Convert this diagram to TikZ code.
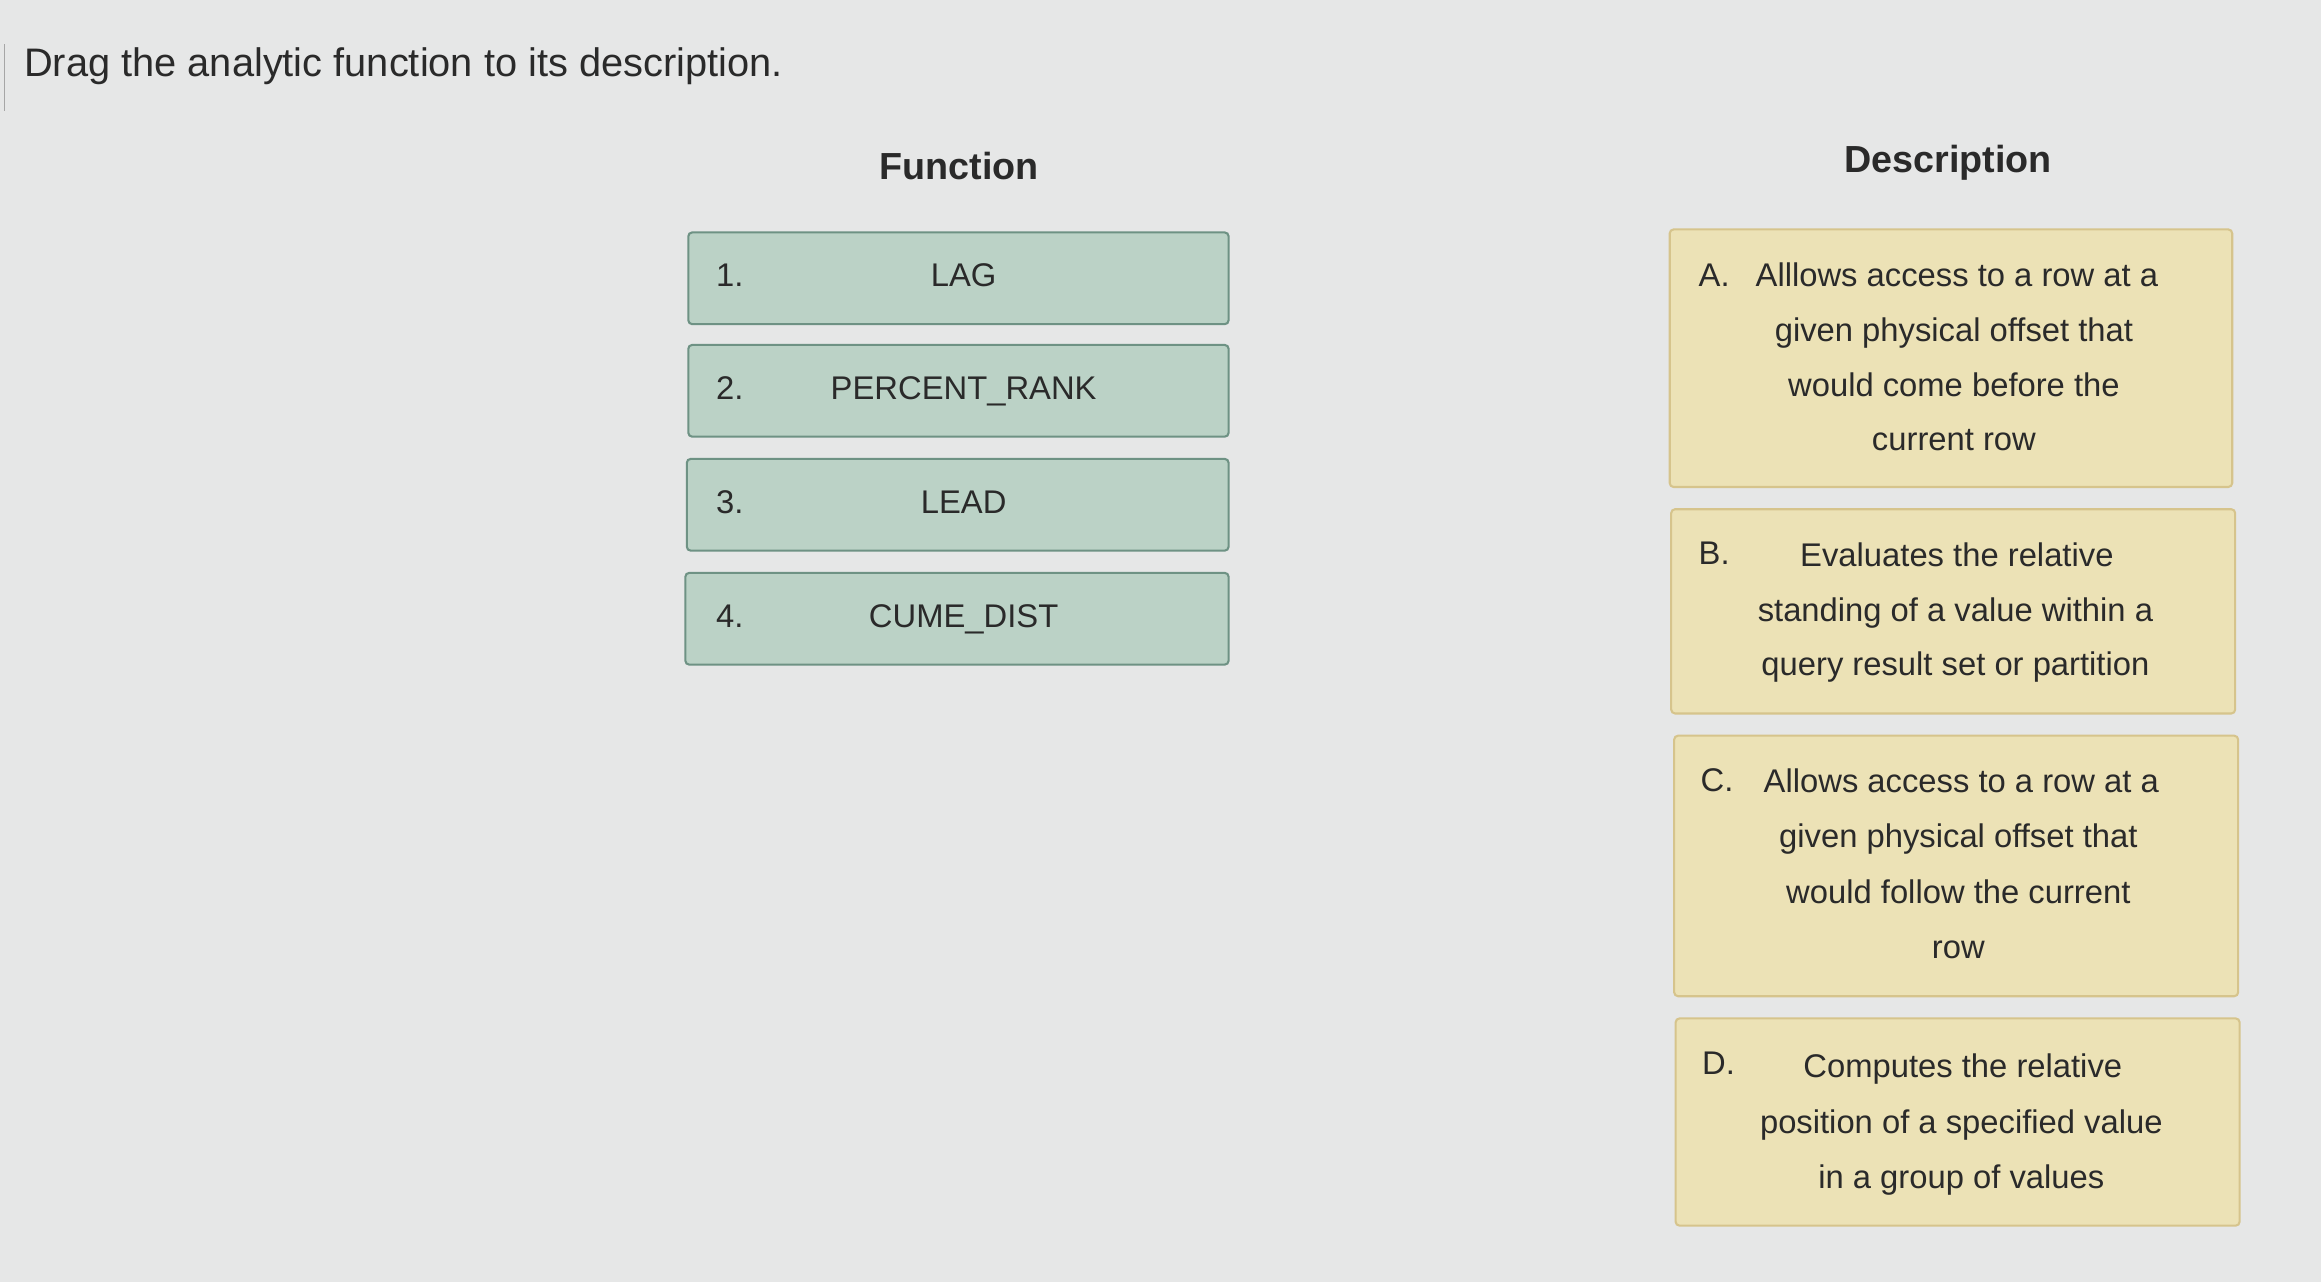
\documentclass[tikz,border=0pt]{standalone}
\usepackage{fontspec}
\setmainfont{Liberation Sans}
\definecolor{bg}{HTML}{E6E7E7}
\definecolor{gfill}{HTML}{BBD2C6}
\definecolor{gline}{HTML}{6E9284}
\definecolor{yfill}{HTML}{ECE2B6}
\definecolor{yline}{HTML}{D6C48C}
\definecolor{txt}{HTML}{2A2A2A}
\begin{document}
\begin{tikzpicture}[x=0.02cm,y=-0.02cm,
  fbox/.style={draw=gline,fill=gfill,line width=0.8pt,rounded corners=1.5pt},
  dbox/.style={draw=yline,fill=yfill,line width=0.8pt,rounded corners=1.5pt},
  t/.style={text=txt,font=\fontsize{12.6}{14}\selectfont,inner sep=0pt,text height=9pt,text depth=2.6pt},
  hd/.style={text=txt,font=\fontsize{14.5}{17}\selectfont\bfseries,inner sep=0pt}]
\fill[bg] (0,0) rectangle (1568,866);
\useasboundingbox (0,0) rectangle (1568,866);
\draw[gray!70,line width=0.6pt] (3,30) -- (3,75);
\node[t,anchor=west,font=\fontsize{15.3}{17}\selectfont] (title) at (16,46) {Drag the analytic function to its description.};
\node[hd] (fh) at (648,112) {Function};
\node[hd] (dh) at (1316,110) {Description};
\foreach \n/\y/\xl/\lab in {1/157/465/LAG,2/233/465/PERCENT\_RANK,3/310/464/LEAD,4/387/463/CUME\_DIST}{
  \draw[fbox] (\xl,\y) rectangle (830,\y+62);
  \node[t] (n\n) at (493,\y+31) {\n.};
  \node[t] (f\n) at (651,\y+31) {\lab};
}
\draw[dbox] (1128,155) rectangle (1508,329);
\draw[dbox] (1129,344) rectangle (1510,482);
\draw[dbox] (1131,497) rectangle (1512,673);
\draw[dbox] (1132,688) rectangle (1513,828);
\node[t] (la) at (1158,188) {A.};
\node[t] (a1) at (1322,188) {Alllows access to a row at a};
\node[t] (a2) at (1320,225) {given physical offset that};
\node[t] (a3) at (1320,262) {would come before the};
\node[t] (a4) at (1320,299) {current row};
\node[t] (lb) at (1158,376) {B.};
\node[t] (b1) at (1322,377) {Evaluates the relative};
\node[t] (b2) at (1321,414) {standing of a value within a};
\node[t] (b3) at (1321,451) {query result set or partition};
\node[t] (lc) at (1160,529) {C.};
\node[t] (c1) at (1325,530) {Allows access to a row at a};
\node[t] (c2) at (1323,567) {given physical offset that};
\node[t] (c3) at (1323,605) {would follow the current};
\node[t] (c4) at (1323,642) {row};
\node[t] (ld) at (1161,720) {D.};
\node[t] (d1) at (1326,722) {Computes the relative};
\node[t] (d2) at (1325,760) {position of a specified value};
\node[t] (d3) at (1325,797) {in a group of values};
\end{tikzpicture}
\end{document}
